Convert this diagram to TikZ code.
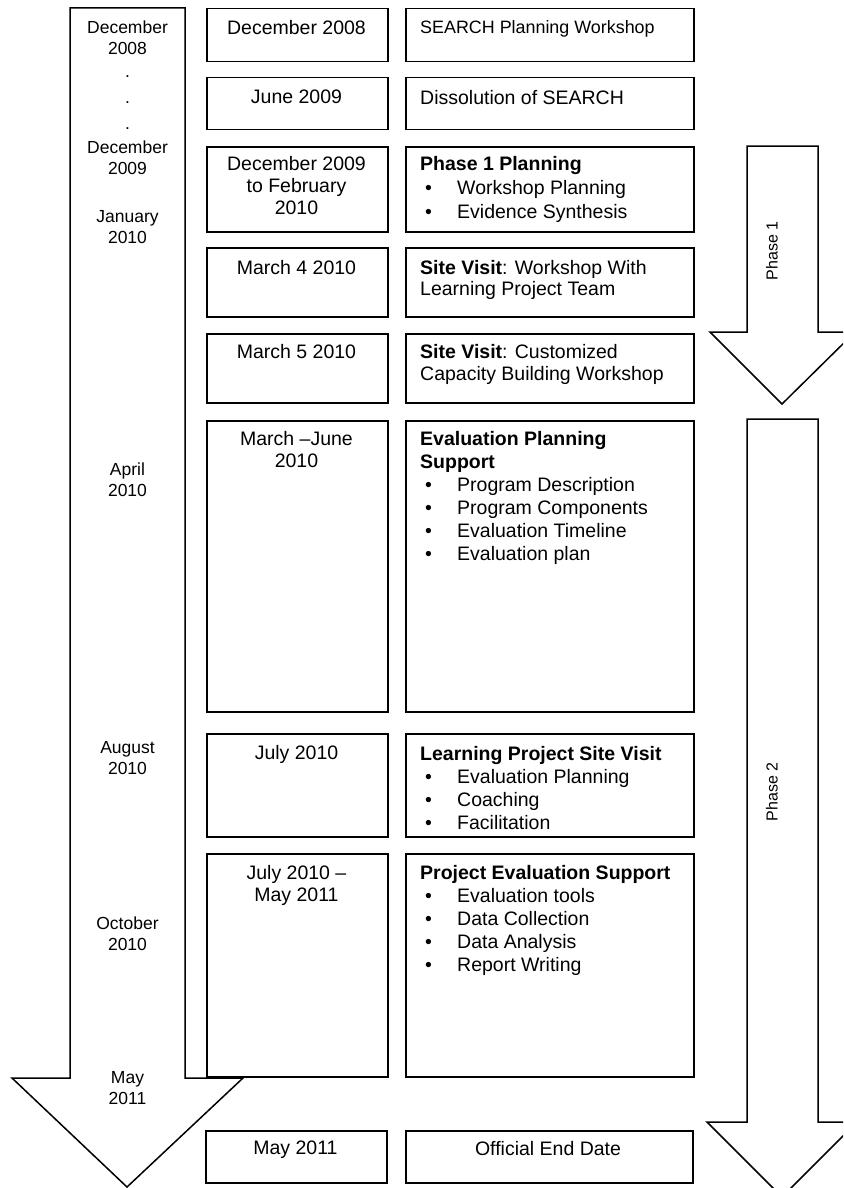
\documentclass[tikz,border=0pt]{standalone}
\usepackage{fontspec}
\setmainfont{Liberation Sans}
% bullet entry inside an activity box
\newcommand\bulletline[1]{\hspace*{5pt}\makebox[32pt][l]{\textbullet}#1}
\begin{document}
\begin{tikzpicture}[x=1pt,y=-1pt,
  outline/.style={draw=black, line width=1.5pt, line join=miter},
  box/.style={outline, rectangle, inner sep=0pt, anchor=north west},
  datetxt/.style={anchor=north, inner sep=0pt, align=center, font=\fontsize{19.5}{22}\selectfont},
  infotxt/.style={anchor=north west, inner sep=0pt, align=left, font=\fontsize{19.5}{23}\selectfont},
  sidetxt/.style={anchor=north, inner sep=0pt, align=center, font=\fontsize{17.5}{21}\selectfont},
  dottxt/.style={anchor=base, inner sep=0pt, font=\fontsize{17.5}{21}\selectfont},
  phasetxt/.style={rotate=90, inner sep=0pt, font=\fontsize{16}{19}\selectfont}
]
\fill[white] (0,0) rectangle (843,1188);
\clip (0,0) rectangle (843,1188);
\useasboundingbox (0,0) rectangle (843,1188);

% timeline arrow on the left
\draw[outline] (70,8) -- (70,1078) -- (12,1078) -- (127,1187) -- (243,1078)
  -- (185,1078) -- (185,8) -- cycle;
% phase arrows on the right
\draw[outline] (747,146) -- (747,332) -- (710,332) -- (782,404) -- (855,332)
  -- (818,332) -- (818,146) -- cycle;
\draw[outline] (747,419) -- (747,1122) -- (707,1122) -- (782,1197) -- (857,1122)
  -- (818,1122) -- (818,419) -- cycle;

% date boxes
\node[box, minimum width=181pt, minimum height=53pt]  (d1) at (206,8) {};
\node[box, minimum width=181pt, minimum height=52pt]  (d2) at (206,77) {};
\node[box, minimum width=181pt, minimum height=85pt]  (d3) at (206,146) {};
\node[box, minimum width=181pt, minimum height=69pt]  (d4) at (206,247) {};
\node[box, minimum width=181pt, minimum height=69pt]  (d5) at (206,333) {};
\node[box, minimum width=181pt, minimum height=291pt] (d6) at (206,420) {};
\node[box, minimum width=181pt, minimum height=103pt] (d7) at (206,733) {};
\node[box, minimum width=181pt, minimum height=223pt] (d8) at (206,853) {};
\node[box, minimum width=181pt, minimum height=52pt]  (d9) at (205,1130) {};

% activity boxes
\node[box, minimum width=288pt, minimum height=53pt]  (c1) at (405,8) {};
\node[box, minimum width=288pt, minimum height=52pt]  (c2) at (405,77) {};
\node[box, minimum width=288pt, minimum height=85pt]  (c3) at (405,146) {};
\node[box, minimum width=288pt, minimum height=69pt]  (c4) at (405,247) {};
\node[box, minimum width=288pt, minimum height=69pt]  (c5) at (405,333) {};
\node[box, minimum width=288pt, minimum height=291pt] (c6) at (405,420) {};
\node[box, minimum width=288pt, minimum height=103pt] (c7) at (405,733) {};
\node[box, minimum width=288pt, minimum height=223pt] (c8) at (405,853) {};
\node[box, minimum width=287pt, minimum height=52pt]  (c9) at (405,1130) {};

% date texts
\node[datetxt] (td1) at (296.5,20) {December 2008};
\node[datetxt] (td2) at (296.5,90) {June 2009};
\node[datetxt] (td3) at (296.5,156) {December 2009\\to February\\2010};
\node[datetxt] (td4) at (296.5,260) {March 4 2010};
\node[datetxt] (td5) at (296.5,344) {March 5 2010};
\node[datetxt] (td6) at (296.5,431) {March \textendash June\\2010};
\node[datetxt] (td7) at (296.5,745) {July 2010};
\node[datetxt] (td8) at (296.5,865) {July 2010 \textendash\\May 2011};
\node[datetxt] (td9) at (295.5,1141) {May 2011};

% activity texts
\node[infotxt, font=\fontsize{17.9}{21}\selectfont] (tc1) at (420,20.5) {SEARCH Planning Workshop};
\node[infotxt] (tc2) at (420,90) {Dissolution of SEARCH};
\node[infotxt, font=\fontsize{19.5}{24}\selectfont] (tc3) at (420,156) {\textbf{Phase 1 Planning}\\
  \bulletline{Workshop Planning}\\ \bulletline{Evidence Synthesis}};
\node[infotxt, font=\fontsize{19.5}{21}\selectfont] (tc4) at (420,260) {\textbf{Site Visit}: Workshop With\\Learning Project Team};
\node[infotxt, font=\fontsize{19.5}{22}\selectfont] (tc5) at (420,344) {\textbf{Site Visit}: Customized\\Capacity Building Workshop};
\node[infotxt] (tc6) at (420,431) {\textbf{Evaluation Planning}\\\textbf{Support}\\
  \bulletline{Program Description}\\ \bulletline{Program Components}\\
  \bulletline{Evaluation Timeline}\\ \bulletline{Evaluation plan}};
\node[infotxt] (tc7) at (420,746) {\textbf{Learning Project Site Visit}\\
  \bulletline{Evaluation Planning}\\ \bulletline{Coaching}\\ \bulletline{Facilitation}};
\node[infotxt] (tc8) at (420,865) {\textbf{Project Evaluation Support}\\
  \bulletline{Evaluation tools}\\ \bulletline{Data Collection}\\
  \bulletline{Data Analysis}\\ \bulletline{Report Writing}};
\node[datetxt] (tc9) at (548,1141) {Official End Date};

% labels along the timeline arrow
\node[sidetxt] (s1) at (127.5,20.5) {December\\2008};
\node[dottxt] (s2) at (127.5,78) {.};
\node[dottxt] (s3) at (127.5,104) {.};
\node[dottxt] (s4) at (127.5,129) {.};
\node[sidetxt] (s5) at (127.5,140.5) {December\\2009};
\node[sidetxt] (s6) at (127.5,210.5) {January\\2010};
\node[sidetxt] (s7) at (127.5,462.5) {April\\2010};
\node[sidetxt] (s8) at (127.5,741.5) {August\\2010};
\node[sidetxt] (s9) at (127.5,916.5) {October\\2010};
\node[sidetxt] (s10) at (127.5,1071.5) {May\\2011};

% phase labels
\node[phasetxt] (p1) at (772,251) {Phase 1};
\node[phasetxt] (p2) at (772,792) {Phase 2};
\end{tikzpicture}
\end{document}
